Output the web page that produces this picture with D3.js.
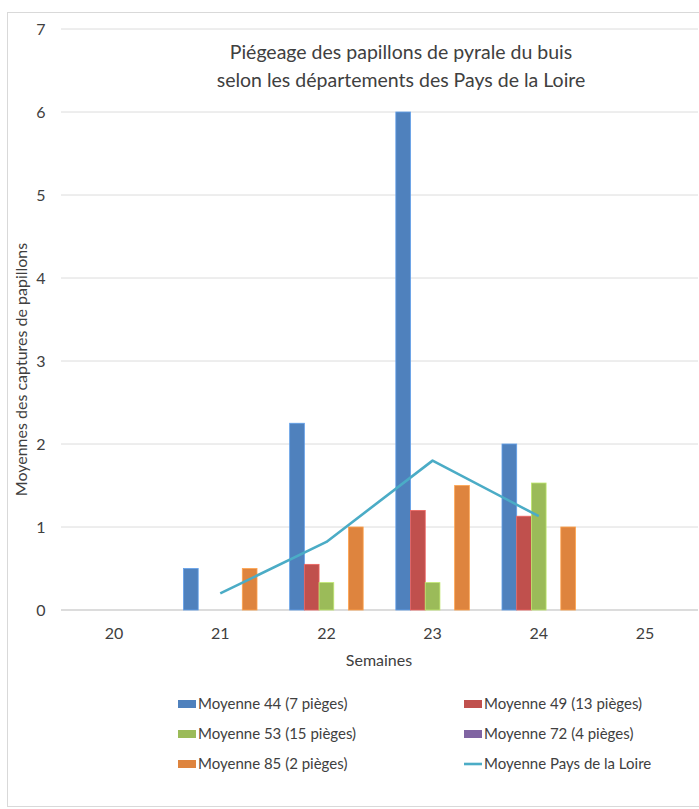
<!DOCTYPE html>
<html>
<head>
<meta charset="utf-8">
<script src="https://cdn.jsdelivr.net/npm/d3@7.9.0/dist/d3.min.js"></script>
<style>
  html, body { margin: 0; padding: 0; background: #fff; }
  svg { display: block; font-family: Lato, "Open Sans", sans-serif; }
</style>
</head>
<body>
<svg id="chart" width="699" height="809"></svg>
<script>
// ─────────── DATA ───────────
const semaines = ["20", "21", "22", "23", "24", "25"];

const moy44 = [null, 0.5, 2.25, 6, 2, null];
const moy49 = [null, null, 0.55, 1.2, 1.13, null];
const moy53 = [null, null, 0.33, 0.33, 1.53, null];
const moy72 = [null, null, null, null, null, null];
const moy85 = [null, 0.5, 1, 1.5, 1, null];
const moyPDL = [null, 0.2, 0.82, 1.8, 1.13, null];

const yTicks = [0, 1, 2, 3, 4, 5, 6, 7];

const barSeries = [
  { name: "Moyenne 44 (7 pièges)", values: moy44, color: "#4F81BD" },
  { name: "Moyenne 49 (13 pièges)", values: moy49, color: "#C0504D" },
  { name: "Moyenne 53 (15 pièges)", values: moy53, color: "#9BBB59" },
  { name: "Moyenne 72 (4 pièges)", values: moy72, color: "#8064A2" },
  { name: "Moyenne 85 (2 pièges)", values: moy85, color: "#DE843E" }
];
const lineSeries = { name: "Moyenne Pays de la Loire", values: moyPDL, color: "#4BACC6" };

// ─────────── LAYOUT ───────────
const svg = d3.select("#chart");
const plot = { left: 61, right: 698, top: 29, bottom: 610 };
const fs = 16;        // base font size
const ink = "#404040";

// chart area border
svg.append("rect")
  .attr("x", 7.5).attr("y", 12.5)
  .attr("width", 700).attr("height", 794)
  .attr("fill", "#fff").attr("stroke", "#D9D9D9");

const x = d3.scaleBand().domain(semaines).range([plot.left, plot.right]);
const xs = d3.scaleBand()
  .domain(barSeries.map((d) => d.name))
  .range([0, x.bandwidth()])
  .paddingOuter(1.11);
const y = d3.scaleLinear().domain([0, 7]).range([plot.bottom, plot.top]);

// gridlines
svg.append("g")
  .selectAll("line")
  .data(yTicks)
  .join("line")
  .attr("x1", plot.left).attr("x2", plot.right)
  .attr("y1", (d) => y(d)).attr("y2", (d) => y(d))
  .attr("stroke", (d) => (d === 0 ? "#D0D0D0" : "#DCDCDC"))
  .attr("stroke-width", (d) => (d === 0 ? 1.5 : 1));

// y tick labels
svg.append("g")
  .selectAll("text")
  .data(yTicks)
  .join("text")
  .attr("x", 41).attr("y", (d) => y(d))
  .attr("dy", "0.35em")
  .attr("text-anchor", "middle")
  .attr("font-size", fs)
  .attr("fill", ink)
  .text((d) => d);

// x tick labels
svg.append("g")
  .selectAll("text")
  .data(semaines)
  .join("text")
  .attr("x", (d) => x(d) + x.bandwidth() / 2)
  .attr("y", 633)
  .attr("dy", "0.35em")
  .attr("text-anchor", "middle")
  .attr("font-size", fs)
  .attr("fill", ink)
  .text((d) => d);

// ─────────── BARS ───────────
barSeries.forEach((s) => {
  svg.append("g")
    .selectAll("rect")
    .data(semaines.map((w, i) => ({ w, v: s.values[i] })).filter((d) => d.v != null))
    .join("rect")
    .attr("x", (d) => x(d.w) + xs(s.name))
    .attr("y", (d) => y(d.v))
    .attr("width", xs.bandwidth())
    .attr("height", (d) => y(0) - y(d.v))
    .attr("fill", s.color)
    .attr("stroke", d3.color(s.color).brighter(0.6))
    .attr("stroke-width", 0.8);
});

// ─────────── LINE ───────────
const linePts = semaines.map((w, i) => ({ w, v: lineSeries.values[i] })).filter((d) => d.v != null);
svg.append("path")
  .datum(linePts)
  .attr("fill", "none")
  .attr("stroke", lineSeries.color)
  .attr("stroke-width", 2.6)
  .attr("stroke-linejoin", "round")
  .attr("d", d3.line().x((d) => x(d.w) + x.bandwidth() / 2).y((d) => y(d.v)));

// ─────────── TITLES ───────────
const title = svg.append("text")
  .attr("text-anchor", "middle")
  .attr("font-size", 19.5)
  .attr("fill", ink);
title.append("tspan").attr("x", 401).attr("y", 59).text("Piégeage des papillons de pyrale du buis");
title.append("tspan").attr("x", 401).attr("y", 87).text("selon les départements des Pays de la Loire");

svg.append("text")
  .attr("x", 379).attr("y", 660)
  .attr("dy", "0.35em")
  .attr("text-anchor", "middle")
  .attr("font-size", fs)
  .attr("fill", ink)
  .text("Semaines");

svg.append("text")
  .attr("transform", `translate(21, ${(plot.top + plot.bottom) / 2 + 50}) rotate(-90)`)
  .attr("dy", "0.35em")
  .attr("text-anchor", "middle")
  .attr("font-size", fs)
  .attr("fill", ink)
  .text("Moyennes des captures de papillons");

// ─────────── LEGEND ───────────
const legendItems = [
  { ...barSeries[0], col: 0, row: 0 },
  { ...barSeries[1], col: 1, row: 0 },
  { ...barSeries[2], col: 0, row: 1 },
  { ...barSeries[3], col: 1, row: 1 },
  { ...barSeries[4], col: 0, row: 2 },
  { ...lineSeries, col: 1, row: 2, isLine: true }
];
const colX = [178, 464];
const rowY = [704, 734, 764];

const leg = svg.append("g")
  .selectAll("g")
  .data(legendItems)
  .join("g")
  .attr("transform", (d) => `translate(${colX[d.col]}, ${rowY[d.row]})`);

leg.filter((d) => !d.isLine)
  .append("rect")
  .attr("x", 0).attr("y", -4)
  .attr("width", 18).attr("height", 8)
  .attr("fill", (d) => d.color);

leg.filter((d) => d.isLine)
  .append("line")
  .attr("x1", 0).attr("x2", 18)
  .attr("stroke", (d) => d.color)
  .attr("stroke-width", 2.6);

leg.append("text")
  .attr("x", 20)
  .attr("dy", "0.35em")
  .attr("font-size", 15)
  .attr("fill", ink)
  .text((d) => d.name);
</script>
</body>
</html>
